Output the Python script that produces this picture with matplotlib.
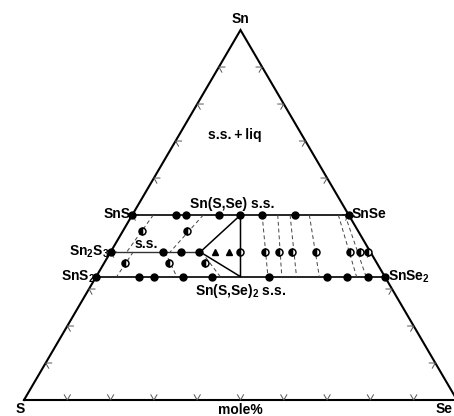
import numpy as np
import matplotlib
matplotlib.use('Agg')
import matplotlib.pyplot as plt

plt.rcParams['font.family'] = ['Liberation Sans', 'DejaVu Sans']
plt.rcParams['mathtext.fontset'] = 'custom'
plt.rcParams['mathtext.bf'] = 'Liberation Sans:bold'
plt.rcParams['mathtext.rm'] = 'Liberation Sans:bold'

# compositions: Sn mole fraction and Se/(S+Se)
SN_SS1 = 0.5      # Sn(S,Se)
SN_23 = 0.4       # Sn2S3 line
SN_SS2 = 1 / 3    # Sn(S,Se)2

top_dots = [0.0, 0.20, 0.25, 0.40, 0.50, 0.60, 0.75, 1.0]
mid_dots = [0.0, 0.20, 0.27, 0.34]
bot_dots = [0.0, 0.15, 0.20, 0.30, 0.40, 0.60, 0.80, 0.87, 0.94, 1.0]
mid_half = [0.50, 0.595, 0.65, 0.70, 0.79, 0.92, 0.96, 0.99]
mid_tri = [0.40, 0.455]
# half filled points inside the two phase fields (Sn fraction, Se ratio)
half_sn = [0.457, 0.457, 0.37, 0.37, 0.37]
half_t = [0.08, 0.271, 0.076, 0.238, 0.369]

# three phase triangle
tri_apex = 0.345
tri_base = 0.5

# tie lines (dashed)
tie_upper = [(0.097, 0.062), (0.328, 0.229)]           # Sn(S,Se) -> Sn2S3 s.s.
tie_lower = [(0.087, 0.071), (0.21, 0.279), (0.35, 0.43)]  # Sn2S3 s.s. -> Sn(S,Se)2
tie_right = [(0.60, 0.595), (0.672, 0.643), (0.729, 0.694),
             (0.818, 0.773), (0.952, 0.902), (0.983, 0.935)]  # Sn(S,Se) -> Sn(S,Se)2

H = np.sqrt(3) / 2


def tern(sn, t):
    sn = np.asarray(sn, dtype=float)
    t = np.asarray(t, dtype=float)
    return (1 - sn) * t + sn / 2, sn * H


fig = plt.figure(figsize=(4.54, 4.16), dpi=100)
ax = fig.add_axes([0, 0, 1, 1])
ax.set_xlim(-24 / 433, 430 / 433)
ax.set_ylim(-16 / 427.2, 400 / 427.2)
ax.axis('off')

# outer triangle
cx = [0, 1, 0.5, 0]
cy = [0, 0, H, 0]
ax.plot(cx, cy, color='black', lw=1.5, solid_joinstyle='miter')

# chevron ticks every 10 %
L = 0.014
corners = [(0, 0), (1, 0), (0.5, H)]
edges = [(0, 1), (0, 2), (1, 2)]
arms = {(0, 1): [(0.5, H), (-0.5, H)],
        (0, 2): [(1, 0), (0.5, -H)],
        (1, 2): [(-1, 0), (-0.5, -H)]}
for e in edges:
    p0 = np.array(corners[e[0]])
    p1 = np.array(corners[e[1]])
    for f in np.arange(1, 10) / 10:
        p = p0 + (p1 - p0) * f
        a1, a2 = arms[e]
        ax.plot([p[0] + a1[0] * L, p[0], p[0] + a2[0] * L],
                [p[1] + a1[1] * L, p[1], p[1] + a2[1] * L],
                color='#555555', lw=0.7)

# phase boundaries
x, y = tern([SN_SS1, SN_SS1], [0, 1])
ax.plot(x, y, color='black', lw=1.2)
x, y = tern([SN_SS2, SN_SS2], [0, 1])
ax.plot(x, y, color='black', lw=1.2)
x, y = tern([SN_23, SN_23], [0, tri_apex])
ax.plot(x, y, color='#333333', lw=1.0)
x, y = tern([SN_SS1, SN_23, SN_SS2, SN_SS1], [tri_base, tri_apex, tri_base, tri_base])
ax.plot(x, y, color='black', lw=1.1)

# tie lines
for t1, t2 in tie_upper:
    x, y = tern([SN_SS1, SN_23], [t1, t2])
    ax.plot(x, y, color='#444444', lw=0.7, ls=(0, (4, 3)))
for t1, t2 in tie_lower:
    x, y = tern([SN_23, SN_SS2], [t1, t2])
    ax.plot(x, y, color='#444444', lw=0.7, ls=(0, (4, 3)))
for t1, t2 in tie_right:
    x, y = tern([SN_SS1, SN_SS2], [t1, t2])
    ax.plot(x, y, color='#444444', lw=0.7, ls=(0, (4, 3)))

# experimental points
x, y = tern([SN_SS1] * len(top_dots), top_dots)
ax.plot(x, y, 'o', color='black', ms=5, ls='none')
x, y = tern([SN_23] * len(mid_dots), mid_dots)
ax.plot(x, y, 'o', color='black', ms=5, ls='none')
x, y = tern([SN_SS2] * len(bot_dots), bot_dots)
ax.plot(x, y, 'o', color='black', ms=5, ls='none')
x, y = tern([SN_23] * len(mid_half), mid_half)
ax.plot(x, y, 'o', mfc='black', mfcalt='white', fillstyle='left', mec='black',
        mew=1.1, ms=5, ls='none')
x, y = tern(half_sn, half_t)
ax.plot(x, y, 'o', mfc='black', mfcalt='white', fillstyle='left', mec='black',
        mew=1.1, ms=5, ls='none')
x, y = tern([SN_23] * len(mid_tri), mid_tri)
ax.plot(x, y, '^', color='black', ms=4.5, ls='none')

# labels
fs = 10
kw = dict(fontsize=fs, fontweight='bold', textcoords='offset points')
ax.annotate('Sn', tern(1, 0), xytext=(0, 3), ha='center', va='bottom', **kw)
ax.annotate('S', tern(0, 0), xytext=(-3, -1.5), ha='center', va='top', **kw)
ax.annotate('Se', (1.0 - 4 / 433, 0), xytext=(0, -1.5), ha='right', va='top', **kw)
ax.annotate('mole%', tern(0, 0.5), xytext=(0, -2.5), ha='center', va='top', **kw)
ax.annotate('SnS', tern(SN_SS1, 0), xytext=(-1, 1), ha='right', va='center', **kw)
ax.annotate('SnSe', tern(SN_SS1, 1), xytext=(2, 1), ha='left', va='center', **kw)
ax.annotate(r'Sn$_\mathbf{2}$S$_\mathbf{3}$', tern(SN_23, 0), xytext=(-1, 0),
            ha='right', va='center', **kw)
ax.annotate(r'SnS$_\mathbf{2}$', tern(SN_SS2, 0), xytext=(-1, 0),
            ha='right', va='center', **kw)
ax.annotate(r'SnSe$_\mathbf{2}$', tern(SN_SS2, 1), xytext=(2, 0),
            ha='left', va='center', **kw)
ax.annotate('Sn(S,Se) s.s.', tern(SN_SS1, 0.46), xytext=(0, 3),
            ha='center', va='bottom', **kw)
ax.annotate(r'Sn(S,Se)$_\mathbf{2}$ s.s.', tern(SN_SS2, 0.5), xytext=(0, -4),
            ha='center', va='top', **kw)
ax.annotate('s.s.', tern(SN_23, 0.136), xytext=(0, 1), ha='center', va='bottom', **kw)
ax.annotate('s.s.\u2009+\u2009liq', tern(0.716, 0.45), xytext=(0, 0),
            ha='center', va='center', **kw)

fig.savefig('out.png', dpi=100)
